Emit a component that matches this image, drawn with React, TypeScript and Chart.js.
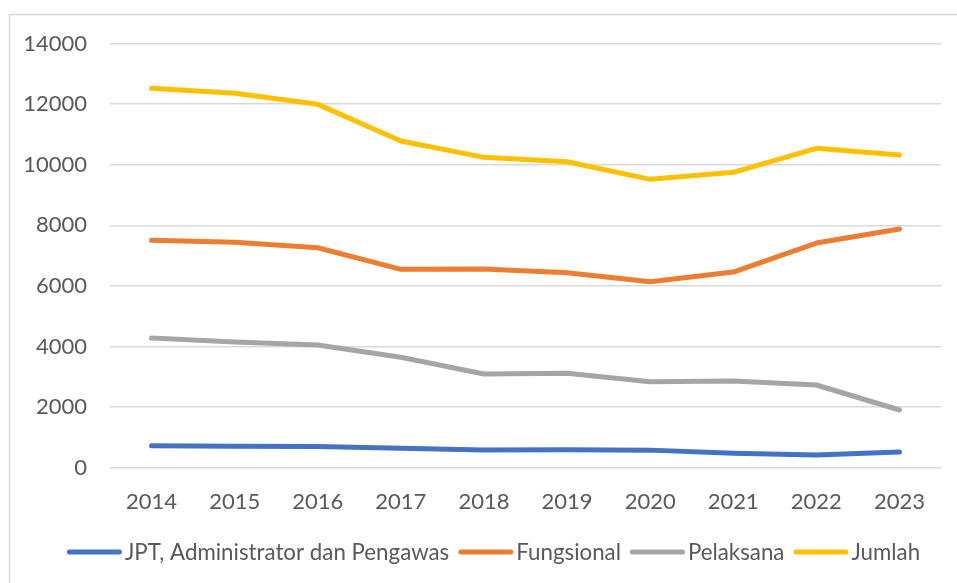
import React, { useEffect, useRef } from "react";
import { Chart, registerables } from "chart.js";

Chart.register(...registerables);

const years = ["2014", "2015", "2016", "2017", "2018", "2019", "2020", "2021", "2022", "2023"];
const jpt = [726, 712, 700, 640, 584, 590, 580, 475, 419, 518];
const fungsional = [7508, 7440, 7260, 6547, 6560, 6435, 6138, 6458, 7415, 7877];
const pelaksana = [4280, 4148, 4049, 3643, 3092, 3115, 2838, 2860, 2729, 1904];
const jumlah = [12520, 12355, 11992, 10781, 10243, 10098, 9517, 9748, 10540, 10319];
const seriesNames = ["JPT, Administrator dan Pengawas", "Fungsional", "Pelaksana", "Jumlah"];
const seriesColors = ["#4472C4", "#ED7D31", "#A5A5A5", "#FFC000"];
const yTicks = [0, 2000, 4000, 6000, 8000, 10000, 12000, 14000];

const FONT = "Lato, 'Open Sans', sans-serif";
const TEXT = "#595959";

const framePlugin = {
  id: "frame",
  beforeDraw(chart: any) {
    const ctx = chart.ctx;
    ctx.save();
    ctx.fillStyle = "#ffffff";
    ctx.fillRect(0, 0, chart.width, chart.height);
    ctx.strokeStyle = "#d9d9d9";
    ctx.lineWidth = 1.5;
    ctx.strokeRect(9.5, 14.5, chart.width + 20, chart.height + 20);
    ctx.restore();
  },
};

const legendPlugin = {
  id: "customLegend",
  afterDraw(chart: any) {
    const ctx = chart.ctx;
    ctx.save();
    ctx.font = `22.3px ${FONT}`;
    const lineW = 55;
    const gapText = 3;
    const gapItem = 9;
    const items = chart.data.datasets.map((ds: any) => ({
      label: ds.label,
      color: ds.borderColor,
      w: lineW + gapText + ctx.measureText(ds.label).width,
    }));
    const total = items.reduce((s: number, it: any) => s + it.w, 0) + gapItem * (items.length - 1);
    let x = 493.5 - total / 2;
    const y = 552;
    ctx.textBaseline = "middle";
    ctx.textAlign = "left";
    for (const it of items) {
      ctx.strokeStyle = it.color;
      ctx.lineWidth = 5;
      ctx.lineCap = "round";
      ctx.beginPath();
      ctx.moveTo(x + 2.5, y);
      ctx.lineTo(x + lineW - 2.5, y);
      ctx.stroke();
      ctx.fillStyle = TEXT;
      ctx.fillText(it.label, x + lineW + gapText, y + 1);
      x += it.w + gapItem;
    }
    ctx.restore();
  },
};

export default function App() {
  const ref = useRef<HTMLCanvasElement | null>(null);
  useEffect(() => {
    document.body.style.margin = "0";
    const data = [jpt, fungsional, pelaksana, jumlah];
    const chart = new Chart(ref.current as HTMLCanvasElement, {
      type: "line",
      data: {
        labels: years,
        datasets: data.map((d, i) => ({
          label: seriesNames[i],
          data: d,
          borderColor: seriesColors[i],
          backgroundColor: seriesColors[i],
          borderWidth: 5,
          pointRadius: 0,
          tension: 0,
          borderCapStyle: "round",
          borderJoinStyle: "round",
        })),
      },
      options: {
        animation: false,
        responsive: false,
        maintainAspectRatio: false,
        layout: { padding: { left: 0, right: 16, top: 43.5, bottom: 0 } },
        plugins: {
          legend: { display: false },
          tooltip: { enabled: false },
        },
        scales: {
          x: {
            offset: true,
            grid: { display: false, drawTicks: false },
            border: { display: false },
            ticks: { color: TEXT, font: { family: FONT, size: 22 }, padding: 21, maxRotation: 0 },
            afterFit: (s: any) => {
              s.height = 583 - 467.7;
            },
          },
          y: {
            min: 0,
            max: 14000,
            afterBuildTicks: (s: any) => {
              s.ticks = yTicks.map((v) => ({ value: v }));
            },
            grid: { color: "#d9d9d9", lineWidth: 1.5, drawTicks: false },
            border: { display: false },
            ticks: {
              color: TEXT,
              font: { family: FONT, size: 22 },
              padding: 23,
              callback: (v: any) => String(v),
            },
            afterFit: (s: any) => {
              s.width = 110;
            },
          },
        },
      },
      plugins: [framePlugin, legendPlugin],
    } as any);
    return () => chart.destroy();
  }, []);
  return (
    <div style={{ width: 957, height: 583 }}>
      <canvas ref={ref} width={957} height={583} style={{ display: "block" }} />
    </div>
  );
}
